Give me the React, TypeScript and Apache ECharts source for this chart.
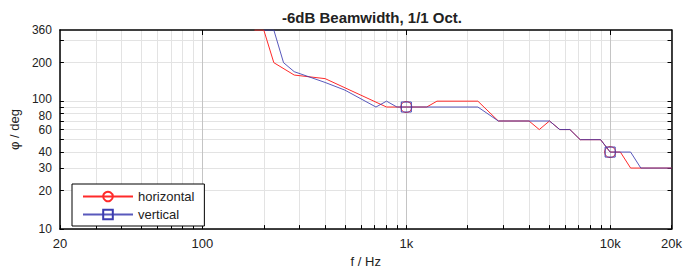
import React, { useEffect, useRef } from "react";
import * as echarts from "echarts";

const titleText = "-6dB Beamwidth, 1/1 Oct.";
const xName = "f / Hz";
const yName = "φ / deg";

const horizontalFreq = [180, 200, 224, 282, 400, 800, 1000, 1260, 1414, 2245, 2828, 4000, 4490, 5040, 5660, 6350, 7130, 8980, 10000, 11225, 12600, 20000];
const horizontalVal = [360, 360, 200, 160, 150, 90, 90, 90, 100, 100, 70, 70, 60, 70, 60, 60, 50, 50, 40, 40, 30, 30];

const verticalFreq = [200, 224, 250, 282, 400, 500, 710, 800, 900, 1000, 2245, 2828, 5040, 5660, 6350, 7130, 8980, 10000, 12600, 14140, 20000];
const verticalVal = [360, 360, 200, 170, 140, 122, 90, 100, 90, 90, 90, 70, 70, 60, 60, 50, 50, 40, 40, 30, 30];

const markerFreqs = [1000, 10000];

const xGridTicks = [20, 30, 40, 50, 60, 70, 80, 90, 100, 200, 300, 400, 500, 600, 700, 800, 900, 1000, 2000, 3000, 4000, 5000, 6000, 7000, 8000, 9000, 10000, 20000];
const xDecadeTicks = [100, 1000, 10000];
const xTickLabels = [20, 100, 1000, 10000, 20000];
const yGridTicks = [10, 20, 30, 40, 50, 60, 70, 80, 90, 100, 200, 300];
const yTickLabels = [10, 20, 30, 40, 60, 80, 100, 200, 360];

const RED = "#ff2a2a";
const BLUE = "#3c3cb0";
const FONT = "Liberation Sans";

function buildData(freqs: number[], vals: number[]) {
  return freqs.map((f, i) =>
    markerFreqs.includes(f) ? { value: [f, vals[i]] } : { value: [f, vals[i]], symbol: "none" }
  );
}

const fmtHz = (v: number) => {
  const r = Math.round(v);
  return r >= 1000 ? r / 1000 + "k" : String(r);
};

const fmtDeg = (v: number) => {
  const r = Math.round(v);
  if (r === 100) return "{up|100}";
  if (r === 80) return "{dn|80}";
  return "{n|" + r + "}";
};

export default function App() {
  const ref = useRef<HTMLDivElement>(null);
  useEffect(() => {
    if (!ref.current) return;
    const chart = echarts.init(ref.current, null, { renderer: "svg" });
    const axisLineStyle = { color: "#000", width: 1.5 };
    const yLab = { fontFamily: FONT, fontSize: 12, lineHeight: 12, color: "#222" };
    chart.setOption({
      animation: false,
      backgroundColor: "#fff",
      title: {
        text: titleText,
        left: 367,
        top: 5,
        textAlign: "center",
        textStyle: { fontFamily: FONT, fontSize: 15, fontWeight: "bold", color: "#222" },
      },
      legend: {
        left: 72,
        top: 184,
        orient: "vertical",
        backgroundColor: "#fff",
        borderColor: "#000",
        borderWidth: 1,
        borderRadius: 0,
        padding: [6, 10, 5, 10],
        itemGap: 5,
        itemWidth: 50,
        itemHeight: 12,
        textStyle: { fontFamily: FONT, fontSize: 13, color: "#222" },
        data: ["horizontal", "vertical"],
      },
      grid: { left: 59, top: 30, right: 12, bottom: 43, containLabel: false },
      xAxis: [
        {
          type: "log",
          min: 20,
          max: 20000,
          position: "bottom",
          name: xName,
          nameLocation: "middle",
          nameGap: 25,
          nameTextStyle: { fontFamily: FONT, fontSize: 13, color: "#222" },
          axisLine: { show: true, lineStyle: axisLineStyle },
          axisTick: { show: true, inside: true, length: 4, customValues: xGridTicks, lineStyle: { color: "#000" } },
          axisLabel: {
            customValues: xTickLabels,
            formatter: fmtHz,
            margin: 8,
            fontFamily: FONT,
            fontSize: 13,
            color: "#222",
          },
          splitLine: { show: true, lineStyle: { color: "#e3e3e3", width: 1 } },
          minorTick: { show: false },
        },
        {
          type: "log",
          min: 20,
          max: 20000,
          position: "top",
          axisLine: { show: true, lineStyle: axisLineStyle },
          axisTick: { show: true, inside: true, length: 5, customValues: xDecadeTicks, lineStyle: { color: "#000" } },
          axisLabel: { show: false, customValues: xDecadeTicks },
          splitLine: { show: true, lineStyle: { color: "#c4c4c4", width: 1 } },
        },
      ],
      yAxis: [
        {
          type: "log",
          min: 10,
          max: 360,
          position: "left",
          name: yName,
          nameLocation: "middle",
          nameGap: 37,
          nameRotate: 90,
          nameTextStyle: { fontFamily: FONT, fontSize: 13, color: "#222" },
          axisLine: { show: true, lineStyle: axisLineStyle },
          axisTick: { show: true, inside: true, length: 4, customValues: yGridTicks, lineStyle: { color: "#000" } },
          axisLabel: {
            customValues: yTickLabels,
            formatter: fmtDeg,
            margin: 8,
            ...yLab,
            rich: {
              n: { ...yLab },
              up: { ...yLab, padding: [0, 0, 4, 0] },
              dn: { ...yLab, padding: [4, 0, 0, 0] },
            },
          },
          splitLine: { show: true, lineStyle: { color: "#e3e3e3", width: 1 } },
        },
        {
          type: "log",
          min: 10,
          max: 360,
          position: "right",
          axisLine: { show: true, lineStyle: axisLineStyle },
          axisTick: { show: true, inside: true, length: 4, customValues: yGridTicks, lineStyle: { color: "#000" } },
          axisLabel: { show: false, customValues: yGridTicks },
          splitLine: { show: false },
        },
      ],
      series: [
        {
          name: "horizontal",
          type: "line",
          xAxisIndex: 0,
          yAxisIndex: 0,
          data: buildData(horizontalFreq, horizontalVal),
          symbol: "circle",
          symbolSize: 11,
          showAllSymbol: true,
          lineStyle: { color: RED, width: 1 },
          itemStyle: { color: "rgba(255,255,255,0)", borderColor: RED, borderWidth: 1 },
          emphasis: { disabled: true },
          z: 3,
        },
        {
          name: "vertical",
          type: "line",
          xAxisIndex: 0,
          yAxisIndex: 0,
          data: buildData(verticalFreq, verticalVal),
          symbol: "rect",
          symbolSize: 10,
          showAllSymbol: true,
          lineStyle: { color: BLUE, width: 1, opacity: 0.85 },
          itemStyle: { color: "rgba(255,255,255,0)", borderColor: BLUE, borderWidth: 1 },
          emphasis: { disabled: true },
          z: 4,
        },
      ],
    });
    return () => chart.dispose();
  }, []);
  return (
    <div
      ref={ref}
      style={{ position: "fixed", left: 0, top: 0, width: 685, height: 273 }}
    />
  );
}
